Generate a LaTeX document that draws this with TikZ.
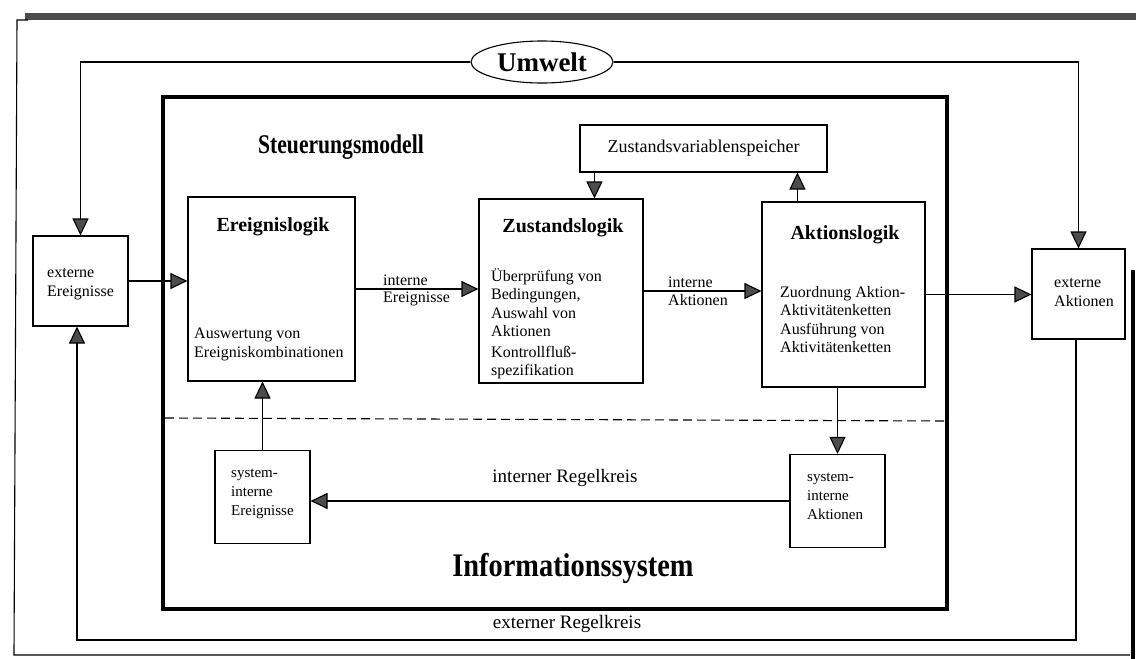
\documentclass[tikz,border=0pt]{standalone}
\usepackage{fontspec}
\setmainfont{Liberation Serif}
\usetikzlibrary{arrows.meta,shapes.geometric,calc}

\definecolor{tipgray}{gray}{0.3}
\definecolor{shadowgray}{gray}{0.3}

\tikzset{
  box/.style={draw, line width=1.1pt, inner sep=0pt},
  conn/.style={draw, line width=1.1pt, -{Triangle[length=17pt,width=16pt,fill=tipgray]}},
  title/.style={font=\fontsize{20}{22}\selectfont\bfseries, inner sep=0pt},
  body/.style={font=\fontsize{16}{18.5}\selectfont, align=left, inner sep=0pt},
  small/.style={font=\fontsize{16}{19}\selectfont, align=left, inner sep=0pt},
  tiny/.style={font=\fontsize{15}{19}\selectfont, align=left, inner sep=0pt},
}

\begin{document}
\begin{tikzpicture}[x=1pt, y=-1pt]
\useasboundingbox (0,0) rectangle (1136,659);

% page frame with its shadow
\draw[shadowgray, line width=7pt] (25,16) -- (1136,16);
\draw[black, line width=4.5pt] (1133,270) -- (1133,659);
\draw[line width=1.1pt] (28,20) -- (17,20) -- (14,655) -- (1130,655);

% inner frame: control model and information system
\draw[line width=4.5pt] (163,97) rectangle (947,609);
\draw[line width=1.1pt, dash pattern=on 9pt off 5pt] (165,418) -- (945,421);

% environment
\node[box, ellipse, minimum width=142pt, minimum height=42pt] (umwelt) at (542,62)
  {\fontsize{27}{29}\selectfont\bfseries Umwelt};

% outer boxes
\node[box, minimum width=95pt, minimum height=90pt] (extE) at (80.5,281) {};
\node[small] (extEt) at (47,284) [anchor=west] {externe\\Ereignisse};

\node[box, minimum width=93pt, minimum height=90pt] (extA) at (1078.5,294) {};
\node[small] (extAt) at (1054,293) [anchor=west] {externe\\Aktionen};

% control model
\node[font=\fontsize{27}{29}\selectfont\bfseries, anchor=west, inner sep=0pt] (steuer) at (258,147)
  {\scalebox{0.8}[1]{Steuerungsmodell}};

\node[box, minimum width=247pt, minimum height=47pt] (speicher) at (703.5,148.5)
  {\fontsize{18}{20}\selectfont Zustandsvariablenspeicher};

\node[box, minimum width=167pt, minimum height=184pt] (ereig) at (271.5,289) {};
\node[title] (ereigT) at (273,227) {Ereignislogik};
\node[body, anchor=north west] (ereigB) at (194,328) {Auswertung von\\Ereigniskombinationen};

\node[box, minimum width=164pt, minimum height=184pt] (zust) at (561,291) {};
\node[title] (zustT) at (563,228) {Zustandslogik};
\node[body, anchor=north west] (zustB) at (491,268) {Überprüfung von\\Bedingungen,\\Auswahl von\\Aktionen};
\node[body, anchor=north west] (zustC) at (491,346) {Kontrollfluß-\\spezifikation};

\node[box, minimum width=163pt, minimum height=185pt] (akt) at (843.5,294.5) {};
\node[title] (aktT) at (845,235) {Aktionslogik};
\node[body, anchor=north west] (aktB) at (780,286) {Zuordnung Aktion-\\Aktivitätenketten\\Ausführung von\\Aktivitätenketten};

% information system
\node[box, minimum width=95pt, minimum height=93pt] (sysE) at (262.5,497) {};
\node[tiny, anchor=north west] (sysEt) at (231,469) {system-\\interne\\Ereignisse};

\node[box, minimum width=95pt, minimum height=93pt] (sysA) at (837.5,501) {};
\node[tiny, anchor=north west] (sysAt) at (807,473) {system-\\interne\\Aktionen};

\node[font=\fontsize{19}{21}\selectfont, inner sep=0pt] (intR) at (565,478) {interner Regelkreis};
\node[font=\fontsize{33}{35}\selectfont\bfseries, inner sep=0pt] (infosys) at (573,568)
  {\scalebox{0.86}[1]{Informationssystem}};
\node[font=\fontsize{19}{21}\selectfont, inner sep=0pt] (extR) at (567,624) {externer Regelkreis};

% connectors in the control model
\draw[conn] (extE.east) -- (extE.east -| ereig.west);
\draw[conn] (ereig.east) -- (ereig.east -| zust.west);
\draw[conn] (zust.east) -- (zust.east -| akt.west);
\draw[conn] (akt.east) -- (akt.east -| extA.west);

\node[small, anchor=south west] (lblIE1) at (383,286) {interne};
\node[small, anchor=north west] (lblIE2) at (383,292) {Ereignisse};
\node[small, anchor=south west] (lblIA1) at (668,288) {interne};
\node[small, anchor=north west] (lblIA2) at (668,294) {Aktionen};

\coordinate (spOut) at ($(speicher.south west)+(15,0)$);
\draw[conn] (spOut) -- (spOut |- zust.north);
\coordinate (spIn) at ($(akt.north west)+(36,0)$);
\draw[conn] (spIn) -- (spIn |- speicher.south);

% internal control loop
\draw[conn] (sysA.north |- akt.south) -- (sysA.north);
\draw[conn] (sysA.west) -- (sysA.west -| sysE.east);
\draw[conn] (sysE.north) -- (sysE.north |- ereig.south);

% environment and external control loop
\draw[conn] (umwelt.west) -| (extE.north);
\draw[conn] (umwelt.east) -| (extA.north);
\coordinate (loopR) at (1076,640);
\coordinate (loopL) at (77,640);
\draw[conn] (loopR |- extA.south) -- (loopR) -- (loopL) -- (loopL |- extE.south);
\end{tikzpicture}
\end{document}
